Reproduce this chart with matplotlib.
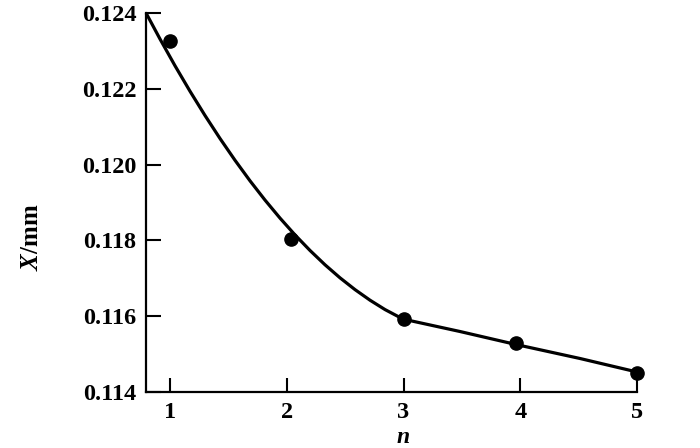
import matplotlib
matplotlib.use("Agg")
import matplotlib.pyplot as plt

# measured points
n_pts = [1.0, 2.04, 3.0, 3.96, 5.0]
x_pts = [0.12326, 0.11804, 0.11593, 0.11529, 0.11450]

# fitted curve
n_curve = [0.7944, 0.9143, 1.0428, 1.1713, 1.2998, 1.4283, 1.5567, 1.6852,
           1.8137, 1.9422, 2.0707, 2.1991, 2.3276, 2.4561, 2.5846, 2.7131,
           2.8415, 2.9957, 3.4839, 3.9636, 4.5118, 5.0]
x_curve = [0.124000, 0.123312, 0.122606, 0.121934, 0.121294, 0.120687, 0.120113,
           0.119571, 0.119063, 0.118587, 0.118144, 0.117734, 0.117356, 0.117012,
           0.116701, 0.116422, 0.116175, 0.115924, 0.115596, 0.115253, 0.114884,
           0.114528]

x_ticks = [1, 2, 3, 4, 5]
y_ticks = [0.114, 0.116, 0.118, 0.120, 0.122, 0.124]
y_labels = ["0.114", "0.116", "0.118", "0.120", "0.122", "0.124"]

plt.rcParams['font.family'] = ['Liberation Serif', 'DejaVu Serif']
plt.rcParams['font.weight'] = 'bold'
plt.rcParams['axes.labelweight'] = 'bold'
plt.rcParams['mathtext.fontset'] = 'custom'
plt.rcParams['mathtext.it'] = 'Liberation Serif:italic:bold'
plt.rcParams['mathtext.rm'] = 'Liberation Serif:bold'

fig = plt.figure(figsize=(7.0, 4.48), dpi=100)
ax = fig.add_axes([146 / 700, 56 / 448, 491 / 700, 379 / 448])

ax.plot(n_curve, x_curve, color='black', lw=2.3, solid_joinstyle='round',
        solid_capstyle='butt', clip_on=False, zorder=2)
ax.plot(n_pts, x_pts, 'o', color='black', ms=9.5, clip_on=False, zorder=3)

ax.set_xlim(0.794, 5.0)
ax.set_ylim(0.114, 0.124)
ax.set_xticks(x_ticks)
ax.set_yticks(y_ticks)
ax.set_yticklabels(y_labels)

for s in ['top', 'right']:
    ax.spines[s].set_visible(False)
for s in ['left', 'bottom']:
    ax.spines[s].set_linewidth(1.6)

ax.tick_params(axis='both', direction='in', width=1.5, labelsize=17.5, colors='black')
ax.tick_params(axis='y', length=11, pad=7)
ax.tick_params(axis='x', length=10, pad=7)

ax.set_xlabel(r'$n$', fontsize=17, va='baseline')
ax.xaxis.set_label_coords((403 - 146) / 491, -(443 - 392) / 379)
ax.set_ylabel(r'$X$/mm', fontsize=18, fontweight='bold', va='center', ha='center')
ax.yaxis.set_label_coords((32 - 146) / 491, (392 - 237) / 379)

fig.savefig('out.png', dpi=100)
